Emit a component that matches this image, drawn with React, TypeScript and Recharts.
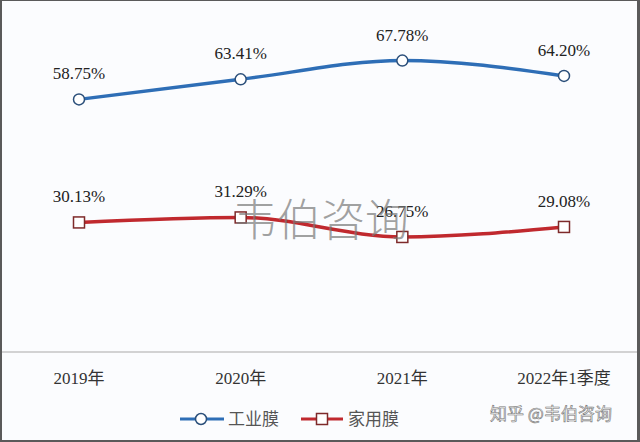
import React from 'react';
import { LineChart, Line, XAxis, YAxis, LabelList, Legend } from 'recharts';

const categories = ['2019年', '2020年', '2021年', '2022年1季度'];
const industrial = [58.75, 63.41, 67.78, 64.2];
const household = [30.13, 31.29, 26.75, 29.08];
const seriesNames = ['工业膜', '家用膜'];

const data = categories.map((c, i) => ({ name: c, industrial: industrial[i], household: household[i] }));

const BLUE = '#2E6EB6';
const BLUE_DARK = '#2B4F7A';
const RED = '#C0292E';
const RED_DARK = '#7E2A2A';
const SERIF = '"Liberation Serif", "Noto Sans CJK SC", serif';

const fmt = (v: any) => `${Number(v).toFixed(2)}%`;

const SquareDot = (props: any) => {
  const { cx, cy, index } = props;
  return (
    <rect key={`sq-${index}`} x={cx - 5.5} y={cy - 5.5} width={11} height={11} fill="#fff" stroke={RED_DARK} strokeWidth={1.5} />
  );
};

const LegendContent = () => (
  <svg width={640} height={30} style={{ display: 'block' }}>
    <line x1={180} x2={224} y1={15} y2={15} stroke={BLUE} strokeWidth={3} />
    <circle cx={201} cy={15} r={5.5} fill="#fff" stroke={BLUE_DARK} strokeWidth={1.5} />
    <text x={228} y={21} fontSize={17} fill="#555" fontFamily={SERIF}>{seriesNames[0]}</text>
    <line x1={301} x2={343} y1={15} y2={15} stroke={RED} strokeWidth={3} />
    <rect x={316.5} y={9.5} width={11} height={11} fill="#fff" stroke={RED_DARK} strokeWidth={1.5} />
    <text x={348} y={21} fontSize={17} fill="#555" fontFamily={SERIF}>{seriesNames[1]}</text>
  </svg>
);

export default function App() {
  return (
    <div style={{ position: 'absolute', left: 0, top: 0, width: 640, height: 442, background: '#fbfcfe' }}>
      <LineChart width={640} height={442} data={data} margin={{ top: 8, right: 0, left: 0, bottom: 8 }}>
        <XAxis
          dataKey="name"
          height={52}
          padding={{ left: 79, right: 76 }}
          tickLine={false}
          tickSize={6}
          tickMargin={14}
          axisLine={{ stroke: '#c4c4c4', strokeWidth: 1.5 }}
          tick={{ fontSize: 17, fill: '#333', fontFamily: SERIF }}
          interval={0}
        />
        <YAxis hide domain={[0, 80]} />
        <Legend verticalAlign="bottom" height={30} wrapperStyle={{ left: 0, width: 640 }} content={LegendContent} />
        <Line
          type="monotone"
          dataKey="industrial"
          name={seriesNames[0]}
          stroke={BLUE}
          strokeWidth={3.5}
          dot={{ r: 5.5, fill: '#fff', stroke: BLUE_DARK, strokeWidth: 1.5 }}
          isAnimationActive={false}
        >
          <LabelList dataKey="industrial" position="top" offset={20} formatter={fmt} style={{ fontSize: 17, fill: '#222', fontFamily: SERIF }} />
        </Line>
        <Line
          type="monotone"
          dataKey="household"
          name={seriesNames[1]}
          stroke={RED}
          strokeWidth={3.5}
          dot={SquareDot}
          isAnimationActive={false}
        >
          <LabelList dataKey="household" position="top" offset={20} formatter={fmt} style={{ fontSize: 17, fill: '#222', fontFamily: SERIF }} />
        </Line>
      </LineChart>
      <div style={{ position: 'absolute', left: 233, top: 190, fontSize: 44, lineHeight: '54px', color: 'rgba(120,120,120,0.7)', fontFamily: '"Noto Sans CJK SC", sans-serif', fontWeight: 300, pointerEvents: 'none', whiteSpace: 'nowrap' }}>
        韦伯咨询
      </div>
      <div style={{ position: 'absolute', left: 490, top: 402, fontSize: 17, lineHeight: '22px', color: '#f2f2f2', WebkitTextStroke: '0.6px #777', fontFamily: '"Noto Sans CJK SC", sans-serif', pointerEvents: 'none', whiteSpace: 'nowrap' }}>
        知乎 @韦伯咨询
      </div>
      <div style={{ position: 'absolute', left: 0, top: 0, width: 640, height: 442, borderStyle: 'solid', borderColor: '#5a5a5a', borderWidth: '1px 3px 2px 2px', boxSizing: 'border-box', pointerEvents: 'none' }} />
    </div>
  );
}
